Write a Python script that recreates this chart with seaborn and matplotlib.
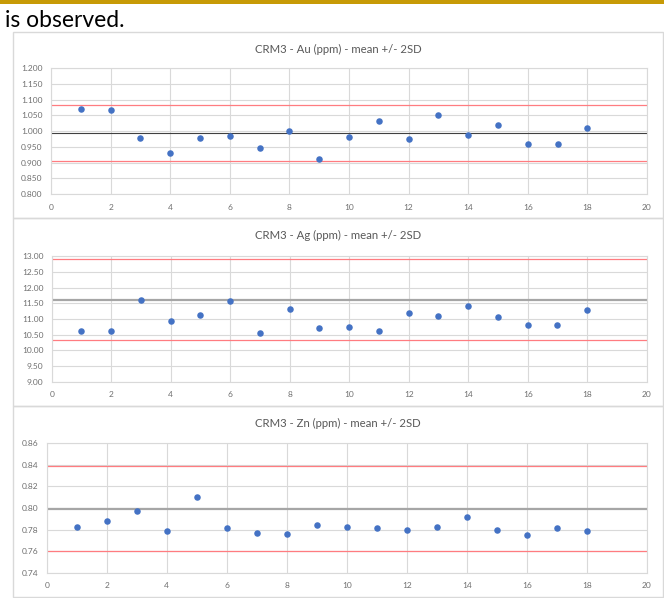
import matplotlib
matplotlib.use("Agg")
import matplotlib.pyplot as plt
from matplotlib.patches import Rectangle
import seaborn as sns

# sample numbers
amostras = list(range(1, 19))

# CRM3 results
au = [1.072, 1.067, 0.977, 0.932, 0.977, 0.984, 0.945, 1.001, 0.911,
      0.980, 1.031, 0.976, 1.050, 0.989, 1.020, 0.958, 0.958, 1.010]
ag = [10.61, 10.61, 11.60, 10.93, 11.13, 11.56, 10.56, 11.31, 10.70,
      10.75, 10.61, 11.20, 11.10, 11.40, 11.07, 10.80, 10.80, 11.29]
zn = [0.782, 0.788, 0.797, 0.779, 0.810, 0.781, 0.777, 0.776, 0.784,
      0.782, 0.781, 0.780, 0.782, 0.792, 0.780, 0.775, 0.781, 0.779]

# mean and 2SD limits
au_media, au_lim = 0.994, [0.904, 1.084]
ag_media, ag_lim = 11.615, [10.32, 12.90]
zn_media, zn_lim = 0.7995, [0.7604, 0.8387]

titulos = ["CRM3 - Au (ppm) - mean +/- 2SD",
           "CRM3 - Ag (ppm) - mean +/- 2SD",
           "CRM3 - Zn (ppm) - mean +/- 2SD"]

sns.set_style("white")
plt.rcParams["font.family"] = ["Lato", "DejaVu Sans"]

W, H = 664, 598
fig = plt.figure(figsize=(W / 100, H / 100), dpi=100)


def caixa(x0, y0, x1, y1):
    # pixel box -> figure coords [left, bottom, width, height]
    return [x0 / W, 1 - y1 / H, (x1 - x0) / W, (y1 - y0) / H]


# gold rule and the sentence fragment above the charts
fig.patches.append(Rectangle((0, 1 - 3.5 / H), 1, 3.5 / H, transform=fig.transFigure,
                             color="#C79A06", lw=0))
fig.text(5 / W, 1 - 27 / H, "is observed.", fontsize=16.5, color="black")

paineis = [
    # frame (px), plot area (px), data, mean, limits, ylim, ystep, yfmt, mean colour, mean lw
    ((13, 32, 663, 218), (51, 68.3, 647, 194), au, au_media, au_lim,
     (0.8, 1.2), 0.05, "{:.3f}", "#404040", 0.8),
    ((13, 218, 663, 406), (51.7, 256.3, 646.7, 381.7), ag, ag_media, ag_lim,
     (9.0, 13.0), 0.5, "{:.2f}", "#A6A6A6", 1.6),
    ((13, 406, 663, 597), (46.7, 443.3, 646.7, 572.7), zn, zn_media, zn_lim,
     (0.74, 0.86), 0.02, "{:.2f}", "#A6A6A6", 1.6),
]

for titulo, (quadro, area, valores, media, lims, ylim, passo, fmt, cor_media, lw_media) in zip(titulos, paineis):
    x0, y0, x1, y1 = quadro
    fig.patches.append(Rectangle((x0 / W, 1 - y1 / H), (x1 - x0) / W, (y1 - y0) / H,
                                 transform=fig.transFigure, fill=False,
                                 edgecolor="#D9D9D9", lw=1))
    fig.text((x0 + x1) / 2 / W, 1 - (y0 + 17) / H, titulo, ha="center", va="center",
             fontsize=8.2, color="#595959")

    ax = fig.add_axes(caixa(*area))
    ax.axhline(lims[1], color="#FF7C80", lw=0.9, zorder=2)
    ax.axhline(lims[0], color="#FF7C80", lw=0.9, zorder=2)
    ax.axhline(media, color=cor_media, lw=lw_media, zorder=2)
    sns.scatterplot(x=amostras, y=valores, ax=ax, color="#4472C4", s=22,
                    linewidth=0, zorder=3)

    ax.set_xlim(0, 20)
    ax.set_ylim(*ylim)
    ax.set_xticks(range(0, 21, 2))
    n = int(round((ylim[1] - ylim[0]) / passo))
    yt = [ylim[0] + i * passo for i in range(n + 1)]
    ax.set_yticks(yt)
    ax.set_yticklabels([fmt.format(v) for v in yt])
    ax.grid(True, color="#D9D9D9", lw=0.8, zorder=0)
    ax.set_axisbelow(True)
    for s in ax.spines.values():
        s.set_color("#D9D9D9")
        s.set_linewidth(0.8)
    ax.tick_params(length=0, labelsize=6, labelcolor="#6F6F6F")
    ax.tick_params(axis="y", pad=6)
    ax.tick_params(axis="x", pad=7)

fig.savefig("out.png", dpi=100)
